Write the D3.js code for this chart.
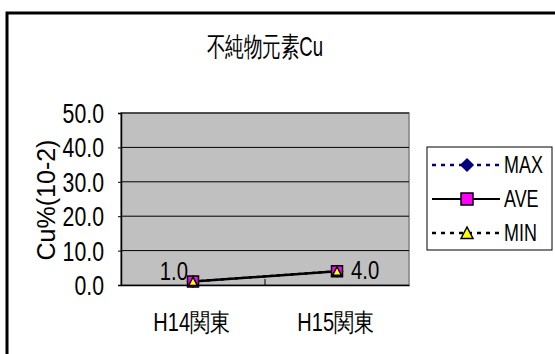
<!DOCTYPE html>
<html>
<head>
<meta charset="utf-8">
<script src="https://cdn.jsdelivr.net/npm/d3@7"></script>
<style>
  body { margin: 0; background: #fff; }
  svg { display: block; }
  text { font-family: "Liberation Sans", Arial, sans-serif; fill: #000; }
</style>
</head>
<body>
<svg id="chart" width="555" height="354"></svg>
<script>
var categories = ["H14関東", "H15関東"];
var maxValues = [1.0, 4.0];
var aveValues = [1.0, 4.0];
var minValues = [1.0, 4.0];
var yTicks = [0, 10, 20, 30, 40, 50];
var chartTitle = "不純物元素Cu";
var yTitle = "Cu%(10-2)";

var series = [
  { name: "MAX", values: maxValues, color: "#000080", dash: "3,4", marker: "diamond", fill: "#000080", stroke: "#000080" },
  { name: "AVE", values: aveValues, color: "#000", dash: null, marker: "square", fill: "#FF00FF", stroke: "#000" },
  { name: "MIN", values: minValues, color: "#000", dash: "3,4", marker: "triangle", fill: "#FFFF00", stroke: "#000" }
];

var svg = d3.select("#chart");
var fmt = d3.format(".1f");

// the old excel font looks squeezed sideways, so text is scaled on x
function squeezed(parent, x, y, str, size, anchor, sx) {
  return parent.append("text")
    .attr("transform", "translate(" + x + "," + y + ") scale(" + (sx || 0.78) + ",1)")
    .attr("text-anchor", anchor || "start")
    .style("font-size", size + "px")
    .text(str);
}

// outer frame (runs off the right/bottom edge)
svg.append("rect")
  .attr("x", 7).attr("y", 13).attr("width", 620).attr("height", 420)
  .attr("fill", "#fff").attr("stroke", "#000").attr("stroke-width", 3);

var plot = { left: 121, top: 113, width: 288, height: 172 };

var x = d3.scaleBand().domain(categories).range([plot.left, plot.left + plot.width]);
var y = d3.scaleLinear().domain([0, 50]).range([plot.top + plot.height, plot.top]);

// plot background
svg.append("rect")
  .attr("x", plot.left).attr("y", plot.top)
  .attr("width", plot.width).attr("height", plot.height)
  .attr("fill", "#C0C0C0").attr("stroke", "#808080").attr("stroke-width", 1.5);

// gridlines
svg.selectAll("line.grid").data(yTicks.slice(1)).enter().append("line")
  .attr("class", "grid")
  .attr("x1", plot.left).attr("x2", plot.left + plot.width)
  .attr("y1", function(d) { return y(d); }).attr("y2", function(d) { return y(d); })
  .attr("stroke", "#000").attr("stroke-width", 1);

// y axis
var yAxis = svg.append("g")
  .attr("transform", "translate(" + plot.left + ",0)")
  .call(d3.axisLeft(y).tickValues(yTicks).tickSize(3).tickFormat(""));
yAxis.select(".domain").attr("stroke", "#000").attr("stroke-width", 1.5);
yAxis.selectAll(".tick line").attr("stroke", "#000");
yTicks.forEach(function(t) {
  squeezed(svg, 104, y(t) + 10, fmt(t), 28, "end", 0.76);
});

// x axis
var xAxis = svg.append("g")
  .attr("transform", "translate(0," + (plot.top + plot.height) + ")")
  .call(d3.axisBottom(x).tickSize(0).tickFormat(""));
xAxis.select(".domain").attr("stroke", "#000").attr("stroke-width", 1.5);
categories.forEach(function(c) {
  squeezed(svg, x(c) + x.bandwidth() / 2 - 1, 331, c, 25, "middle", 0.8);
});
// category divider ticks
svg.selectAll("line.ctick").data(categories.slice(1)).enter().append("line")
  .attr("class", "ctick")
  .attr("x1", function(d) { return x(d); }).attr("x2", function(d) { return x(d); })
  .attr("y1", plot.top + plot.height).attr("y2", plot.top + plot.height - 6)
  .attr("stroke", "#000");

// title
squeezed(svg, 265, 56, chartTitle, 27, "middle", 0.69);

// y title
svg.append("text")
  .attr("transform", "translate(55,200) rotate(-90)")
  .attr("text-anchor", "middle")
  .style("font-size", "25px")
  .text(yTitle);

function markerPath(type, size) {
  var s = size;
  if (type === "diamond") return "M0," + (-s) + "L" + s + ",0L0," + s + "L" + (-s) + ",0Z";
  if (type === "square") return "M" + (-s) + "," + (-s) + "h" + (2 * s) + "v" + (2 * s) + "h" + (-2 * s) + "Z";
  return "M0," + (-s) + "L" + s + "," + (s * 0.9) + "L" + (-s) + "," + (s * 0.9) + "Z";
}

var cx = function(d, i) { return x(categories[i]) + x.bandwidth() / 2; };

series.forEach(function(s) {
  var line = d3.line()
    .x(function(d, i) { return cx(d, i); })
    .y(function(d) { return y(d); });
  svg.append("path")
    .datum(s.values)
    .attr("d", line)
    .attr("fill", "none")
    .attr("stroke", s.color)
    .attr("stroke-width", s.dash ? 2 : 2.5)
    .attr("stroke-dasharray", s.dash);
});

series.forEach(function(s) {
  var size = s.marker === "triangle" ? 4.5 : 5.5;
  svg.selectAll("path.m-" + s.name).data(s.values).enter().append("path")
    .attr("class", "m-" + s.name)
    .attr("transform", function(d, i) { return "translate(" + cx(d, i) + "," + y(d) + ")"; })
    .attr("d", markerPath(s.marker, size))
    .attr("fill", s.fill).attr("stroke", s.stroke).attr("stroke-width", 1.5);
});

// data labels (AVE)
aveValues.forEach(function(d, i) {
  if (i === 0) squeezed(svg, cx(d, i) - 5, y(d) - 2, fmt(d), 26, "end");
  else squeezed(svg, cx(d, i) + 14, y(d) + 8, fmt(d), 26, "start");
});

// legend
var legend = svg.append("g");
legend.append("rect")
  .attr("x", 427).attr("y", 147).attr("width", 125).attr("height", 103)
  .attr("fill", "#fff").attr("stroke", "#000").attr("stroke-width", 1);
var legendY = d3.scalePoint().domain(series.map(function(s) { return s.name; })).range([165, 233]);
series.forEach(function(s) {
  var ly = legendY(s.name);
  legend.append("line")
    .attr("x1", 432).attr("x2", 500).attr("y1", ly).attr("y2", ly)
    .attr("stroke", s.color).attr("stroke-width", s.dash ? 2.5 : 2)
    .attr("stroke-dasharray", s.dash ? "4,5" : null);
  legend.append("path")
    .attr("transform", "translate(467," + ly + ")")
    .attr("d", markerPath(s.marker, 6))
    .attr("fill", s.fill).attr("stroke", s.stroke).attr("stroke-width", 1.5);
  squeezed(legend, 504, ly + 8, s.name, 23, "start", 0.78);
});
</script>
</body>
</html>
